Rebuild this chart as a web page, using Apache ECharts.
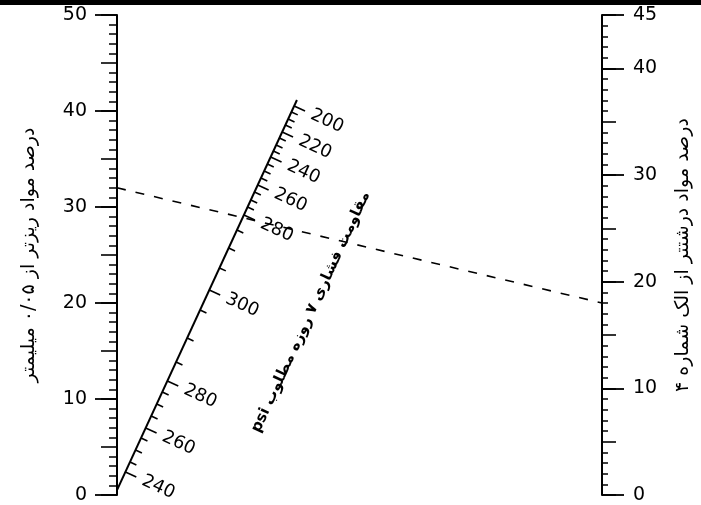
<!DOCTYPE html>
<html><head><meta charset="utf-8">
<script src="https://cdn.jsdelivr.net/npm/echarts@6/dist/echarts.min.js"></script>
<style>html,body{margin:0;padding:0;background:#fff}#c{width:701px;height:505px}</style>
</head><body><div id="c"></div>
<script>
const leftTitle = 'درصد مواد ریزتر از ۰/۰۵ میلیمتر';
const rightTitle = 'درصد مواد درشتتر از الک شماره ۴';
const diagTitle = 'مقاومت فشاری ۷ روزه مطلوب psi';
const leftRange = [0, 50];
const rightRange = [0, 45];
const dashedLeft = 32;   // read on left scale
const dashedRight = 18;  // read on right scale
const diagStart = [0, 0.5];     // [x (0-100 across), height on left scale]
const diagEnd = [37.1, 41.15];
const diagMajorLabels = [240, 260, 280, 300, 280, 260, 240, 220, 200];
const diagMajorPos = [2.40, 6.98, 11.88, 21.35, 29.17, 32.29, 35.21, 37.81, 40.52];
const diagMinorPos = [3.44, 4.69, 5.94, 8.23, 9.48, 10.73, 13.85, 16.35, 19.27, 23.65, 25.73, 27.60,
  30.0, 30.73, 31.56, 33.02, 33.75, 34.48, 35.83, 36.46, 37.19, 38.54, 39.17, 39.90];

const FONT = 'DejaVu Sans';
const RTL = s => '\u202B' + s + '\u202C';
const chart = echarts.init(document.getElementById('c'));

const rightToLeft = v => v * (leftRange[1] - leftRange[0]) / (rightRange[1] - rightRange[0]);

const tickData = diagMajorPos.map((h, i) => [h, 1, diagMajorLabels[i]])
  .concat(diagMinorPos.map(h => [h, 0, 0]));

function renderTick(params, api) {
  const h = api.value(0);
  const major = api.value(1) === 1;
  const t = (h - diagStart[1]) / (diagEnd[1] - diagStart[1]);
  const x = diagStart[0] + t * (diagEnd[0] - diagStart[0]);
  const p = api.coord([x, h]);
  const a = api.coord(diagStart), b = api.coord(diagEnd);
  let dx = b[0] - a[0], dy = b[1] - a[1];
  const L = Math.hypot(dx, dy); dx /= L; dy /= L;
  const nx = -dy, ny = dx;
  const len = major ? 12 : 7;
  const children = [{
    type: 'line',
    shape: { x1: p[0], y1: p[1], x2: p[0] + nx * len, y2: p[1] + ny * len },
    style: { stroke: '#000', lineWidth: 1.6 }
  }];
  if (major) {
    children.push({
      type: 'text',
      x: p[0] + nx * 19, y: p[1] + ny * 19,
      rotation: -Math.atan2(ny, nx),
      style: { text: String(api.value(2)), fill: '#000', fontSize: 18, fontFamily: FONT,
        align: 'left', verticalAlign: 'middle' }
    });
  }
  return { type: 'group', children };
}

function axisBase(pos, range, extra) {
  return Object.assign({
    type: 'value', position: pos, min: range[0], max: range[1],
    splitLine: { show: false },
    axisLine: { show: true, lineStyle: { color: '#000', width: 2 } },
  }, extra);
}

const option = {
  animation: false,
  backgroundColor: '#fff',
  grid: { left: 117, right: 96, top: 15, bottom: 10 },
  xAxis: { type: 'value', min: 0, max: 100, show: false },
  yAxis: [
    axisBase('left', leftRange, {
      interval: 10,
      axisTick: { length: 22, lineStyle: { color: '#000', width: 1.8 } },
      axisLabel: { color: '#000', fontSize: 19, fontFamily: FONT, margin: 30 },
      name: RTL(leftTitle), nameLocation: 'middle', nameGap: 78, nameRotate: 90,
      nameTextStyle: { color: '#000', fontSize: 19, fontFamily: FONT }
    }),
    axisBase('left', leftRange, {
      interval: 5,
      axisLine: { show: false },
      axisTick: { length: 16, lineStyle: { color: '#000', width: 1.6 } },
      axisLabel: { show: false },
      minorTick: { show: true, splitNumber: 5, length: 8, lineStyle: { color: '#000', width: 1.5 } }
    }),
    axisBase('right', rightRange, {
      interval: 10,
      axisTick: { length: 22, lineStyle: { color: '#000', width: 1.8 } },
      axisLabel: { color: '#000', fontSize: 19, fontFamily: FONT, margin: 31 },
      name: RTL(rightTitle), nameLocation: 'middle', nameGap: 72, nameRotate: 90,
      nameTextStyle: { color: '#000', fontSize: 19, fontFamily: FONT }
    }),
    axisBase('right', rightRange, {
      interval: 5,
      axisLine: { show: false },
      axisTick: { length: 14, lineStyle: { color: '#000', width: 1.6 } },
      axisLabel: { show: false },
      minorTick: { show: true, splitNumber: 5, length: 6, lineStyle: { color: '#000', width: 1.5 } }
    })
  ],
  series: [
    {
      type: 'line', yAxisIndex: 0, symbol: 'none', silent: true,
      data: [[0, dashedLeft], [100, rightToLeft(dashedRight)]],
      lineStyle: { color: '#000', width: 1.6, type: [9, 10] }
    },
    {
      type: 'line', yAxisIndex: 0, symbol: 'none', silent: true,
      data: [diagStart, diagEnd],
      lineStyle: { color: '#000', width: 2 }
    },
    {
      type: 'custom', yAxisIndex: 0, clip: false, silent: true,
      data: tickData, renderItem: renderTick
    }
  ],
  graphic: [
    { type: 'rect', shape: { x: 0, y: 0, width: 701, height: 5 }, style: { fill: '#000' } },
    { type: 'text', x: 311, y: 312, rotation: 65.2 * Math.PI / 180,
      style: { text: RTL(diagTitle), fill: '#000', fontSize: 15, fontWeight: 'bold', fontFamily: FONT,
        align: 'center', verticalAlign: 'middle' } }
  ]
};
chart.setOption(option);
</script></body></html>
